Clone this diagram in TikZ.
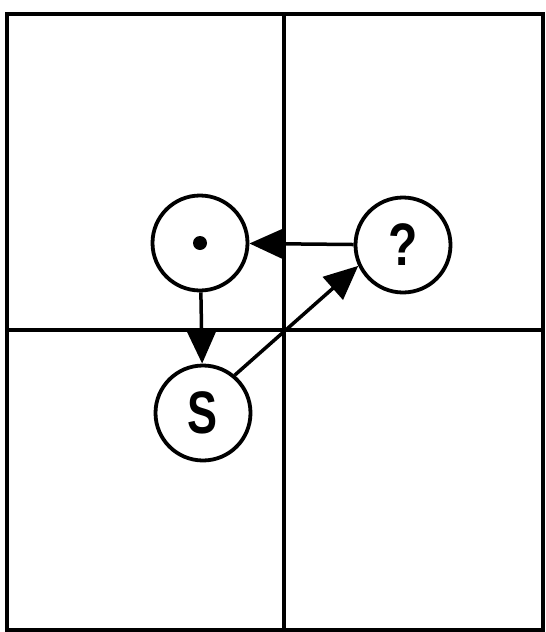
\documentclass[tikz,border=0pt]{standalone}
\usepackage{fontspec}
\setmainfont{Liberation Sans}
\usepackage{tikz}
\usetikzlibrary{arrows.meta}

\begin{document}
\begin{tikzpicture}[
    x=1pt, y=-1pt,
    font=\bfseries\fontsize{60}{60}\selectfont,
    grid/.style={line width=3.8pt, black},
    state/.style={circle, draw, line width=3.8pt, minimum size=95pt, inner sep=0pt},
    arr/.style={-{Triangle[length=34pt, width=30pt]}, line width=3.5pt}
]
\useasboundingbox (0,0) rectangle (546,632);
% the four cells
\draw[grid] (7,14) rectangle (543,630);
\draw[grid] (284,14) -- (284,630);
\draw[grid] (7,330) -- (543,330);

\node[state] (dot) at (200,243) {};
\fill (dot.center) circle (7pt);
\node[state] (ask) at (403,245) {\scalebox{0.8}[1]{?}};
\node[state] (s)   at (203,413) {\scalebox{0.75}[1]{S}};

\draw[arr] (ask) -- (dot);
\draw[arr] (dot) -- (s);
\draw[arr] (s.50) -- (ask.205);
\end{tikzpicture}
\end{document}
